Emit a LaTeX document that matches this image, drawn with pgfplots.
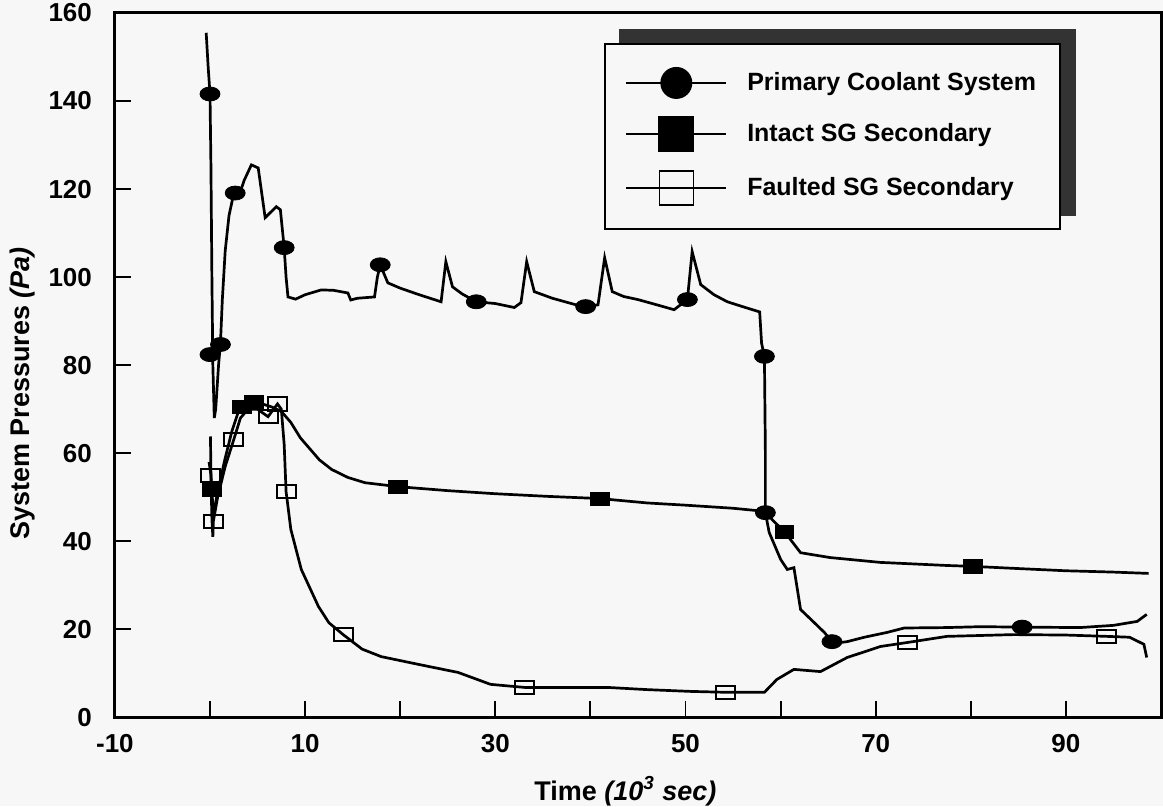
\documentclass[border=0pt]{standalone}
\usepackage{fontspec}
\setmainfont{Liberation Sans}
\usepackage{pgfplots}
\pgfplotsset{compat=1.18}
\usetikzlibrary{backgrounds}
\definecolor{bg}{RGB}{247,247,247}

\begin{document}
\begin{tikzpicture}[font=\bfseries]
\begin{axis}[
  scale only axis, width=523.5pt, height=352.5pt,
  xmin=-10, xmax=100, ymin=0, ymax=160,
  axis line style={line width=1.5pt},
  tick align=inside, xtick pos=bottom, ytick pos=left,
  major tick length=8pt,
  every tick/.style={black, line width=1pt},
  xtick={-10,0,...,90}, xticklabels={-10,,10,,30,,50,,70,,90},
  ytick={0,20,...,160},
  ticklabel style={font=\bfseries\fontsize{13}{15}\selectfont},
  /pgf/number format/assume math mode=true,
  xticklabel style={yshift=-5pt},
  yticklabel style={xshift=-8pt},
  xlabel={Time \textit{(10\textsuperscript{3} sec)}},
  ylabel={System Pressures \textit{(Pa)}},
  every axis x label/.style={at={(axis description cs:0.488,0)}, yshift=-37pt, anchor=center,
    font=\bfseries\fontsize{13.5}{15}\selectfont},
  every axis y label/.style={at={(axis description cs:0,0.46)}, xshift=-46pt, rotate=90, anchor=center,
    font=\bfseries\fontsize{13.5}{15}\selectfont},
  legend style={name=leg, at={(0.9044,0.9574)}, anchor=north east, draw=black, line width=1pt,
    fill=bg, font=\bfseries\fontsize{12.5}{15}\selectfont,
    inner xsep=10pt, inner ysep=12pt, row sep=9.75pt, cells={anchor=west},
    /tikz/every odd column/.append style={column sep=8pt}},
  legend image code/.code={\draw[mark repeat=2,mark phase=2,#1] plot coordinates {(0pt,0pt) (25pt,0pt) (50pt,0pt)};},
]
% primary coolant system
\addplot[black, line width=1.35pt, forget plot] coordinates {
(-0.4,155.5) (-0.2,148) (0,141.6) (0.1,125) (0.2,100) (0.3,80) (0.45,68) (0.6,70)
(0.9,80) (1.1,85) (1.3,95) (1.6,106) (2.0,114) (2.4,118) (2.65,119.1) (3.2,119.5)
(3.6,122) (4.35,125.5) (5.07,124.8) (5.8,113.5) (6.97,116) (7.4,115.3) (7.8,106.7)
(8.0,100) (8.2,95.5) (9,95) (10,96) (11.7,97.1) (13,97) (14.5,96.4) (14.8,94.8)
(15.5,95.2) (17.3,95.5) (17.6,100) (17.9,102.8) (18.7,98.7) (20,97.5) (22,96)
(24.3,94.4) (24.8,103.5) (25.5,97.8) (26.5,96.2) (28,94.4) (30,94) (32,93.1)
(32.7,94.2) (33.3,103.5) (34.1,96.7) (36,95.2) (38.5,93.7) (39.5,93.3) (40.8,93.7)
(41.5,104.4) (42.3,96.7) (43.5,95.6) (45,94.9) (47,93.7) (48.8,92.6) (50.2,94.9)
(50.7,105.8) (51.6,98.3) (53,96) (54.4,94.4) (56,93.3) (57.8,92.1) (58.0,85)
(58.3,82) (58.4,60) (58.4,46.5) (58.8,42) (60,35.9) (60.7,33.6) (61.4,34) (62.1,24.5)
(63.5,21.6) (64.6,19.3) (65.4,17.2) (66.3,17) (67,17.2) (68.8,18.2) (71.2,19.3)
(73,20.3) (77.5,20.4) (81,20.6) (85.4,20.5) (91.5,20.4) (95,20.9) (97.5,21.8) (98.5,23.4)
};
\addplot[only marks, mark=*, mark size=5pt, mark options={yscale=0.7, fill=black}, forget plot] coordinates {
(0,141.6) (0,82.4) (1.1,84.7) (2.65,119.1) (7.8,106.7) (17.9,102.8) (28,94.4)
(39.5,93.3) (50.2,94.9) (58.3,82) (58.4,46.5) (65.4,17.2) (85.4,20.5)
};
% intact SG secondary
\addplot[black, line width=1.35pt, forget plot] coordinates {
(-0.1,58) (0.1,55) (0.2,51.7) (0.35,46) (0.7,50) (1.5,58) (2.3,65) (3,69.5) (3.5,71)
(4.5,71.7) (5.5,71.2) (6.5,70.5) (7.5,69.5) (8.5,67) (9.5,63.5) (10.3,61.5)
(11.5,58.5) (12.8,56.3) (14.5,54.5) (16.3,53.3) (19.8,52.4) (25,51.5) (30,50.8)
(35.5,50.2) (41,49.7) (46,48.7) (50,48.2) (55,47.5) (58.3,46.8) (59.3,44.5)
(60.4,42.2) (62.1,37.4) (65.2,36.3) (70.5,35.2) (77.5,34.5) (80.2,34.3) (85,33.8)
(90,33.3) (95,33) (98.7,32.7)
};
\addplot[only marks, mark=square*, mark size=4.75pt, mark options={yscale=0.7, fill=black}, forget plot] coordinates {
(0.2,51.7) (3.4,70.5) (4.6,71.7) (19.8,52.4) (41,49.7) (60.4,42.2) (80.2,34.3)
};
% faulted SG secondary
\addplot[black, line width=1.35pt, forget plot] coordinates {
(0.05,63.8) (0.1,55) (0.2,45) (0.3,41) (0.35,44.5) (0.8,50) (1.6,57) (2.5,63.1)
(3.2,68) (4,70) (5,70) (6.1,68.3) (7.1,71.2) (7.5,70) (7.8,62) (8.0,51.3) (8.5,42.7)
(9.6,33.6) (11.4,25.2) (12.5,21.5) (14,18.8) (16,15.5) (18,13.8) (22,12) (26.1,10.2)
(29.5,7.5) (33.1,6.8) (37,6.8) (41.8,6.8) (46,6.3) (50.5,5.9) (54.2,5.7) (58.3,5.7)
(59.6,8.6) (61.4,10.9) (64.2,10.4) (67,13.6) (70.5,16.1) (73.3,17) (77.5,18.4)
(84.5,18.8) (90,18.7) (94.3,18.4) (96.7,18.2) (98.2,16.6) (98.5,13.6)
};
\addplot[only marks, mark=square, mark size=4.75pt, mark options={yscale=0.7, line width=1pt}, forget plot] coordinates {
(0.05,55) (0.35,44.5) (2.5,63.1) (6.1,68.3) (7.1,71.2) (8,51.3) (14,18.8) (33.1,6.8)
(54.2,5.7) (73.3,17) (94.3,18.4)
};
\addlegendimage{black, line width=1pt, mark=*, mark size=7.5pt, mark options={fill=black}}
\addlegendentry{Primary Coolant System}
\addlegendimage{black, line width=1pt, mark=square*, mark size=8.5pt, mark options={fill=black}}
\addlegendentry{Intact SG Secondary}
\addlegendimage{black, line width=1pt, mark=square, mark size=8.5pt, mark options={line width=0.8pt}}
\addlegendentry{Faulted SG Secondary}
\end{axis}
\begin{scope}[on background layer]
\fill[bg] (-57.5pt,-44.5pt) rectangle (524.5pt,359pt);
\fill[black!80] ([shift={(7.5pt,7pt)}]leg.south west) rectangle ([shift={(7.5pt,7pt)}]leg.north east);
\end{scope}
\pgfresetboundingbox
\path[use as bounding box] (-57.5pt,-44.5pt) rectangle (524.5pt,359pt);
\end{tikzpicture}
\end{document}
